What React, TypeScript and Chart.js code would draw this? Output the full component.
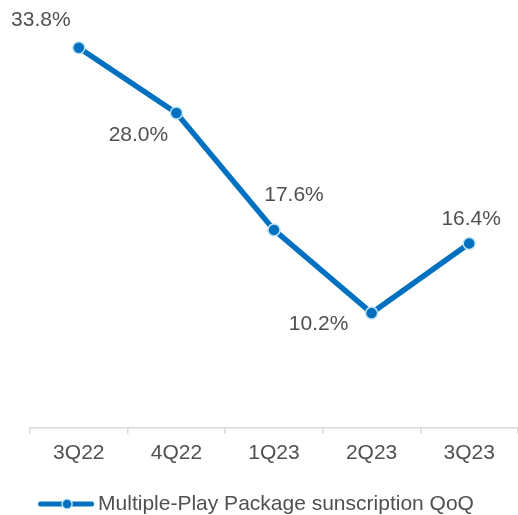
import React, { useEffect, useRef } from "react";
import { Chart, registerables } from "chart.js";

Chart.register(...registerables);

const categories = ["3Q22", "4Q22", "1Q23", "2Q23", "3Q23"];
const qoqValues = [33.8, 28.0, 17.6, 10.2, 16.4];
const seriesLabel = "Multiple-Play Package sunscription QoQ";
const valueLabels = qoqValues.map((v) => v.toFixed(1) + "%");
// label placement relative to each point (dx, dy)
const labelOffsets = [
  [-38, -28],
  [-38, 22],
  [20, -35],
  [-53, 11],
  [2, -24],
];

const LINE = "#0070C0";
const HALO = "#BFE3F2";
const TEXT = "#505050";
const FONT = "'Liberation Sans', Arial, sans-serif";
const FONT_SIZE = 21;

const valueLabelPlugin = {
  id: "valueLabels",
  afterDatasetsDraw(chart: any) {
    const ctx = chart.ctx;
    const meta = chart.getDatasetMeta(0);
    ctx.save();
    ctx.font = `${FONT_SIZE}px ${FONT}`;
    ctx.fillStyle = TEXT;
    ctx.textAlign = "center";
    ctx.textBaseline = "middle";
    meta.data.forEach((pt: any, i: number) => {
      const [dx, dy] = labelOffsets[i];
      ctx.fillText(valueLabels[i], pt.x + dx, pt.y + dy);
    });
    ctx.restore();
  },
};

const lineLegendPlugin = {
  id: "lineLegend",
  afterDraw(chart: any) {
    const ctx = chart.ctx;
    const ds = chart.data.datasets[0];
    ctx.save();
    ctx.font = `${FONT_SIZE}px ${FONT}`;
    const tw = ctx.measureText(ds.label).width;
    const iconW = 56;
    const gap = 4;
    const total = iconW + gap + tw;
    const x0 = (chart.width - total) / 2 - 3;
    const y = chart.height - 11;
    ctx.strokeStyle = LINE;
    ctx.lineWidth = 5;
    ctx.lineCap = "round";
    ctx.beginPath();
    ctx.moveTo(x0 + 2.5, y);
    ctx.lineTo(x0 + iconW - 2.5, y);
    ctx.stroke();
    ctx.beginPath();
    ctx.arc(x0 + 29, y, 5, 0, Math.PI * 2);
    ctx.fillStyle = LINE;
    ctx.fill();
    ctx.lineWidth = 1.5;
    ctx.strokeStyle = HALO;
    ctx.stroke();
    ctx.fillStyle = TEXT;
    ctx.textAlign = "left";
    ctx.textBaseline = "middle";
    ctx.fillText(ds.label, x0 + iconW + gap, y);
    ctx.restore();
  },
};

export default function App() {
  const ref = useRef<HTMLCanvasElement>(null);
  useEffect(() => {
    if (!ref.current) return;
    const chart = new Chart(ref.current, {
      type: "line",
      data: {
        labels: categories,
        datasets: [
          {
            label: seriesLabel,
            data: qoqValues,
            borderColor: LINE,
            backgroundColor: LINE,
            borderWidth: 5.5,
            pointRadius: 6,
            pointBorderWidth: 1.5,
            pointBorderColor: HALO,
            pointBackgroundColor: LINE,
            tension: 0,
          },
        ],
      },
      options: {
        responsive: false,
        animation: false,
        layout: { autoPadding: false, padding: { left: 30, top: 23, right: 0, bottom: 42 } },
        plugins: {
          tooltip: { enabled: false },
          legend: { display: false },
        },
        scales: {
          x: {
            type: "category",
            offset: true,
            grid: {
              offset: true,
              drawOnChartArea: false,
              tickLength: 6,
              color: "#D9D9D9",
              lineWidth: 1.5,
            },
            border: { color: "#D9D9D9", width: 1.5 },
            ticks: {
              color: TEXT,
              padding: 7,
              font: { family: FONT, size: FONT_SIZE },
              maxRotation: 0,
            },
          },
          y: {
            display: false,
            min: 0,
            max: 36,
          },
        },
      },
      plugins: [valueLabelPlugin, lineLegendPlugin],
    });
    return () => chart.destroy();
  }, []);
  return (
    <div style={{ position: "absolute", left: 0, top: 0, width: 518, height: 515, background: "#fff" }}>
      <canvas ref={ref} width={518} height={515} />
    </div>
  );
}
